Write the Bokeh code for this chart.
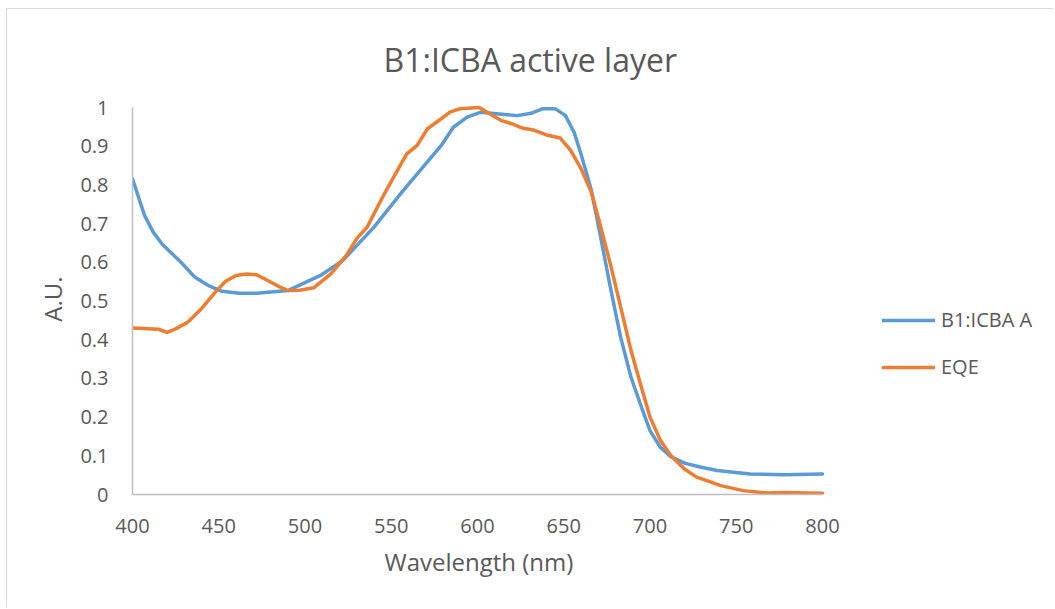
from bokeh.plotting import figure
from bokeh.models import Range1d, FixedTicker, Legend, LegendItem, Title
from bokeh.embed import file_html
from bokeh.resources import INLINE

# ---- data ----
blue_nm = [400, 403.5, 407, 412, 417, 423, 429, 436, 444, 452, 462, 472, 490, 509, 522, 540,
           557, 579, 586, 594, 602, 611, 623, 631, 638, 645, 651, 654, 656, 660, 666, 671,
           677, 683, 689, 695, 700, 706, 712, 720, 729, 739, 758, 778, 800]
blue_val = [0.816, 0.768, 0.721, 0.678, 0.648, 0.622, 0.596, 0.562, 0.540, 0.525, 0.520, 0.520,
            0.527, 0.566, 0.605, 0.691, 0.786, 0.902, 0.949, 0.975, 0.988, 0.984, 0.979, 0.985,
            0.997, 0.997, 0.979, 0.953, 0.936, 0.880, 0.786, 0.674, 0.536, 0.406, 0.303, 0.226,
            0.165, 0.122, 0.098, 0.081, 0.071, 0.062, 0.053, 0.051, 0.053]

eqe_nm = [400, 409, 415, 420, 425, 432, 440, 448, 454, 460, 466, 472, 480, 486, 490, 497, 505,
          515, 524, 530, 536, 546, 553, 559, 565, 571, 579, 584, 590, 601, 607, 614, 620, 626,
          633, 640, 648, 654, 660, 666, 671, 677, 683, 689, 695, 700, 706, 712, 720, 727, 733,
          741, 754, 768, 778, 790, 800]
eqe_val = [0.430, 0.428, 0.427, 0.419, 0.428, 0.445, 0.480, 0.523, 0.551, 0.566, 0.570, 0.568,
           0.549, 0.535, 0.527, 0.528, 0.534, 0.570, 0.618, 0.661, 0.691, 0.777, 0.833, 0.880,
           0.902, 0.945, 0.971, 0.988, 0.997, 1.000, 0.984, 0.966, 0.958, 0.947, 0.941, 0.929,
           0.921, 0.889, 0.842, 0.781, 0.699, 0.596, 0.484, 0.372, 0.277, 0.200, 0.140, 0.101,
           0.066, 0.045, 0.036, 0.023, 0.010, 0.004, 0.005, 0.004, 0.003]

series_names = ["B1:ICBA A", "EQE"]
x_ticks = [400, 450, 500, 550, 600, 650, 700, 750, 800]
y_ticks = [0, 0.1, 0.2, 0.3, 0.4, 0.5, 0.6, 0.7, 0.8, 0.9, 1]
y_tick_labels = ["0", "0.1", "0.2", "0.3", "0.4", "0.5", "0.6", "0.7", "0.8", "0.9", "1"]
title_text = "B1:ICBA active layer"
x_label = "Wavelength (nm)"
y_label = "A.U."

BLUE = "#5B9BD5"
ORANGE = "#ED7D31"
TXT = "#595959"
AX = "#BFBFBF"
FONT = "Open Sans"

# canvas starts at page (7, 9) because of margin + 1px border
OX, OY = 7, 9
W, H = 1047, 599
FL, FT, FB = 132 - OX, 103 - OY, 494 - OY      # frame left / top / bottom (canvas px)
PX_PER_NM = 690 / 400.0
PX_PER_UNIT = 387.0
x_end = 400 + (W - FL) / PX_PER_NM
y_end = (FB - FT) / PX_PER_UNIT

p = figure(width=W, height=H, output_backend="svg", toolbar_location=None,
           x_range=Range1d(400, x_end), y_range=Range1d(0, y_end),
           min_border_left=FL, min_border_right=0,
           min_border_top=FT, min_border_bottom=H - FB,
           styles={"margin-left": "6px", "margin-top": "8px",
                   "border-left": "1px solid #D9D9D9", "border-top": "1px solid #D9D9D9"})
p.outline_line_color = None
p.xgrid.visible = False
p.ygrid.visible = False
p.background_fill_color = "white"
p.border_fill_color = "white"

r1 = p.line(blue_nm, blue_val, line_color=BLUE, line_width=3.5, line_join="round", line_cap="round")
r2 = p.line(eqe_nm, eqe_val, line_color=ORANGE, line_width=3.5, line_join="round", line_cap="round")

for ax in (p.xaxis[0], p.yaxis[0]):
    ax.axis_line_color = AX
    ax.axis_line_width = 1.5
    ax.major_tick_line_color = None
    ax.minor_tick_line_color = None
    ax.major_label_text_font = FONT
    ax.major_label_text_font_size = "20px"
    ax.major_label_text_color = TXT
    ax.axis_label_text_font = FONT
    ax.axis_label_text_font_size = "24px"
    ax.axis_label_text_font_style = "normal"
    ax.axis_label_text_color = TXT

p.xaxis.ticker = FixedTicker(ticks=x_ticks)
p.yaxis.ticker = FixedTicker(ticks=y_ticks)
p.yaxis.major_label_overrides = {t: s for t, s in zip(y_ticks, y_tick_labels)}
p.xaxis.bounds = (400, 800)
p.yaxis.bounds = (0, 1)
p.xaxis.major_label_standoff = 18
p.yaxis.major_label_standoff = 18
p.yaxis.axis_label = y_label
p.yaxis.axis_label_standoff = 8

# chart title above the frame
p.title.text = title_text
p.title.align = "left"
p.title.offset = 251
p.title.standoff = 45
p.title.text_font = FONT
p.title.text_font_size = "32px"
p.title.text_font_style = "normal"
p.title.text_color = TXT

# x-axis title, left-aligned under the bounded axis
p.add_layout(Title(text=x_label, align="left", offset=252, standoff=14,
                   text_font=FONT, text_font_size="24px", text_font_style="normal",
                   text_color=TXT), "below")

legend = Legend(items=[LegendItem(label=series_names[0], renderers=[r1]),
                       LegendItem(label=series_names[1], renderers=[r2])],
                location=(882 - 132, 114), orientation="vertical",
                padding=0, margin=0, spacing=20,
                glyph_width=53, glyph_height=20, label_height=20, label_standoff=6,
                label_text_font=FONT, label_text_font_size="20px", label_text_color=TXT,
                border_line_color=None, background_fill_alpha=0)
p.add_layout(legend, "center")

open("out.html", "w").write(file_html(p, INLINE))
